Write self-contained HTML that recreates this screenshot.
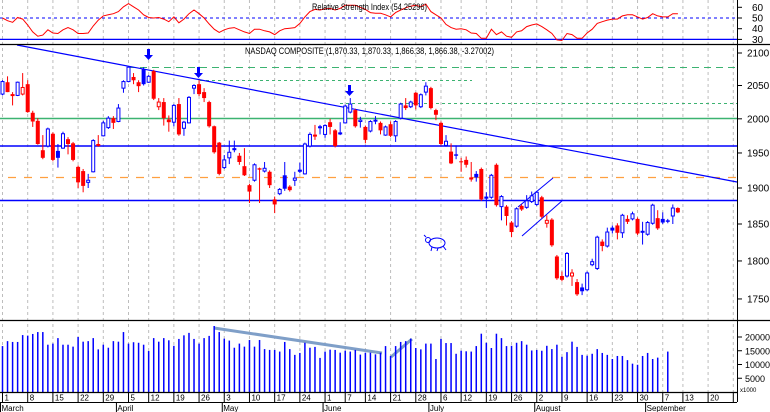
<!DOCTYPE html>
<html><head><meta charset="utf-8">
<style>
html,body{margin:0;padding:0;background:#fff;}
svg{display:block;font-family:"Liberation Sans",sans-serif;}
</style></head>
<body>
<svg id="chart" width="770" height="412" viewBox="0 0 770 412" xmlns="http://www.w3.org/2000/svg">
<rect x="0" y="0" width="770" height="412" fill="#fff"/>
<g id="grid"></g>
<g id="rsi"></g>
<g id="overlays"></g>
<g id="candles"></g>
<g id="volume"></g>
<g id="axes"></g>
</svg>
<script>
// ---- data ----
const opens  = [2037,2055,2037,2035,2037,2052,2009,1997,1954,1960,1978,1953,1957,1970,1964,1930,1924,1908,1923,1963,1975,1987,2001,1996,2046,2056,2063,2055,2075,2055,2072,2018,2025,1999,1995,2022,1986,1994,2046,2052,2040,2025,1989,1965,1929,1943,1957,1946,1931,1904,1911,1928,1924,1923,1884,1892,1918,1902,1911,1926,1920,1960,1975,1989,1977,1995,1983,1980,1994,2010,2013,1996,1988,1982,1997,1994,1976,1992,1975,2001,2020,2018,2039,2018,2040,2046,2013,1994,1961,1952,1948,1938,1940,1915,1920,1927,1888,1887,1933,1874,1874,1852,1847,1875,1873,1881,1877,1887,1851,1856,1806,1780,1780,1780,1772,1765,1762,1795,1790,1826,1820,1845,1848,1838,1857,1857,1857,1839,1836,1851,1858,1857,1855,1861,1872];
const highs  = [2058,2064,2040,2056,2069,2058,2012,2001,1976,1987,1980,1963,1981,1973,1966,1932,1927,1920,1970,1976,1997,2004,2004,2022,2058,2080,2069,2058,2078,2066,2074,2031,2031,2005,2022,2031,1997,2034,2052,2058,2046,2027,1990,1966,1947,1968,1968,1950,1957,1906,1935,1929,1937,1925,1888,1900,1937,1904,1923,1936,1965,1980,1991,1991,1992,2000,1985,1995,2021,2031,2015,2003,1990,1998,2004,1996,1990,1996,1998,2024,2031,2027,2040,2038,2055,2048,2015,1996,1976,1964,1961,1943,1945,1937,1924,1929,1894,1920,1935,1890,1876,1854,1873,1877,1890,1895,1896,1889,1862,1858,1808,1786,1812,1789,1776,1770,1786,1803,1834,1829,1845,1848,1851,1864,1862,1867,1859,1853,1854,1878,1869,1866,1857,1877,1873];
const lows   = [2035,2040,2020,2034,2035,2009,1988,1962,1941,1958,1938,1929,1956,1948,1938,1900,1894,1900,1922,1959,1974,1985,1985,1995,2039,2055,2052,2040,2050,2054,2028,2013,1990,1981,1989,1975,1975,1993,2037,2034,2025,1987,1949,1918,1927,1934,1951,1933,1917,1879,1909,1879,1922,1900,1865,1890,1896,1895,1903,1921,1919,1958,1969,1977,1972,1977,1958,1976,1993,2008,1987,1987,1964,1980,1992,1977,1975,1973,1966,1999,2013,2016,2014,2016,2035,2014,1998,1961,1959,1934,1941,1923,1929,1909,1909,1882,1872,1885,1874,1855,1848,1832,1845,1868,1871,1879,1875,1858,1845,1819,1775,1773,1778,1767,1754,1755,1760,1793,1788,1813,1818,1837,1829,1831,1850,1855,1835,1822,1834,1849,1842,1850,1851,1850,1865];
const closes = [2056,2040,2034,2055,2047,2010,1996,1963,1943,1985,1940,1943,1978,1963,1940,1908,1903,1911,1968,1960,1994,2001,1994,2016,2056,2078,2058,2049,2052,2064,2030,2025,2001,1995,2020,1977,1995,2032,2050,2037,2031,1989,1951,1920,1940,1951,1954,1937,1918,1895,1933,1926,1928,1904,1877,1898,1899,1897,1914,1923,1963,1977,1976,1986,1990,1988,1960,1977,2019,2022,1989,1998,1969,1996,1998,1983,1988,1975,1996,2022,2016,2025,2020,2036,2049,2016,2006,1963,1967,1935,1946,1937,1933,1912,1915,1884,1885,1918,1876,1888,1861,1839,1871,1870,1882,1889,1894,1860,1855,1821,1777,1775,1810,1784,1756,1760,1784,1799,1832,1820,1839,1841,1838,1862,1853,1864,1837,1840,1852,1876,1844,1852,1853,1872,1866];
const volumes = [16700,18500,18200,18200,20700,20500,21100,21800,21800,17200,17600,19600,17200,17200,16500,20000,18300,18500,19600,15500,17200,16100,18500,18300,21800,17600,18100,17900,17200,14900,19600,18300,19600,18800,16800,19300,20600,21500,19300,17600,19600,20400,24000,21800,19400,18700,16100,17600,16500,18900,16500,18900,15600,15300,15300,14700,18200,15600,13500,14200,17900,16100,16400,12400,14700,15400,15300,14300,15000,14700,15300,13600,14300,14300,13700,14300,16700,13100,16700,18200,18500,19400,16000,15500,17600,17600,12000,19300,17800,17800,13900,15000,14800,14700,16700,21200,17900,16000,21200,19600,16700,16800,17900,18500,17200,15100,15300,15000,16800,15600,17200,12800,14500,18300,16400,13500,13200,13900,15600,14200,13500,12000,13100,13100,11600,10300,9900,13100,14200,12000,12500,0,14700,0,0];
const rsiValues = [50,47.5,46,50.5,49,43.5,37,33,34,39,36,35.5,39,41,39,35.5,35.5,36,42.5,48,52,53,54,56,60.5,63.5,60.5,57.5,53,50.5,50,50.5,49,46.5,51,45.5,49,54,57.5,54,50,44.5,39.5,36.5,39,40.5,41,39,37,35.5,39.5,39.5,38,37,34.5,38,40,40.5,41,45,51,56,58,57.5,58.5,59,57.5,59,62,62,62,60,58,55,54.5,54.5,53,51,55,57.5,59.5,61,62,60.5,63,56,53,50,44,41,39.5,40,39,36,35.5,31,31,39.5,34.5,37,33,32,37,38,42,43.5,44.5,42,39,35.5,29.5,29,35.5,34.5,31,31,36,39.5,45,46.5,48,49,49,52,53,53,51,49,50.5,54,52,51,51,54,54];
const priceTicks = [2100,2050,2000,1950,1900,1850,1800,1750];
const volumeTicks = [20000,15000,10000,5000];
const rsiTicks = [60,50,40,30];
const dayTickIndex = [0,5,10,15,20,25,29,34,39,44,49,54,59,64,68,72,77,82,87,91,96,101,106,111,116,121,126,131,135,140,145];
const dayTickLabels = ["1","8","15","22","29","5","12","19","26","3","10","17","24","1","7","14","21","28","6","12","19","26","2","9","16","23","30","7","13","20",""];
const monthIndex = [0,23,44,64,85,106,128];
const monthLabels = ["March","April","May","June","July","August","September"];

// ---- scales ----
const NS="http://www.w3.org/2000/svg";
const PLOT_R=737;
function xOf(i){return 2.5+5.04*i;}
function yPrice(p){return 53+1349*Math.log(2100/p);}
function yVol(v){return 392-v/20000*55;}
function yRsi(v){return 18-(v-50)*1.07;}
function mk(tag,attrs,parent){const e=document.createElementNS(NS,tag);for(const k in attrs)e.setAttribute(k,attrs[k]);parent.appendChild(e);return e;}

const grid=document.getElementById('grid');
const rsiG=document.getElementById('rsi');
const ov=document.getElementById('overlays');
const cg=document.getElementById('candles');
const vg=document.getElementById('volume');
const ax=document.getElementById('axes');

// vertical gridlines
dayTickIndex.forEach((d)=>{
  const x=xOf(d);
  if(x>PLOT_R)return;
  const l=mk('line',{x1:x,y1:0,x2:x,y2:392,stroke:'#bdbdbd','stroke-width':1,'stroke-dasharray':'3,3'},grid);
  
  
});

// RSI panel
let l1=mk('line',{x1:0,y1:yRsi(50),x2:PLOT_R,y2:yRsi(50),stroke:'#0000ff','stroke-width':1,'stroke-dasharray':'3,3'},rsiG);


let l2=mk('line',{x1:0,y1:yRsi(30),x2:PLOT_R,y2:yRsi(30),stroke:'#0000ff','stroke-width':1.3},rsiG);


let rp=rsiValues.map((v,i)=>xOf(i).toFixed(1)+','+yRsi(v).toFixed(1)).join(' ');
let rl=mk('polyline',{points:rp,fill:'none',stroke:'#ff0000','stroke-width':1},rsiG);


let rt=mk('text',{x:312,y:10,'font-size':9,textLength:115,lengthAdjust:'spacingAndGlyphs',fill:'#000'},rsiG);
rt.textContent='Relative Strength Index (54.25296)';



// panel separators
let s1=mk('line',{x1:0,y1:44.5,x2:770,y2:44.5,stroke:'#000','stroke-width':1.3},ax);


let s2=mk('line',{x1:0,y1:320.5,x2:770,y2:320.5,stroke:'#000','stroke-width':1.3},ax);


let s3=mk('line',{x1:PLOT_R+0.5,y1:0,x2:PLOT_R+0.5,y2:402,stroke:'#000','stroke-width':1},ax);



// overlays (support/resistance lines)
let o;
o=mk('line',{x1:0,y1:146,x2:PLOT_R,y2:146,stroke:'#0000ff','stroke-width':1.5},ov);


o=mk('line',{x1:0,y1:200.5,x2:PLOT_R,y2:200.5,stroke:'#0000ff','stroke-width':1.5},ov);


o=mk('line',{x1:0,y1:118.5,x2:PLOT_R,y2:118.5,stroke:'#3cb371','stroke-width':1.5},ov);


o=mk('line',{x1:8,y1:177.5,x2:PLOT_R,y2:177.5,stroke:'#ffa040','stroke-width':1.3,'stroke-dasharray':'8,8'},ov);


o=mk('line',{x1:128,y1:67.5,x2:PLOT_R,y2:67.5,stroke:'#3cb371','stroke-width':1,'stroke-dasharray':'7,5'},ov);


o=mk('line',{x1:200,y1:80.5,x2:472,y2:80.5,stroke:'#3cb371','stroke-width':1,'stroke-dasharray':'3,3'},ov);


o=mk('line',{x1:340,y1:103.5,x2:PLOT_R,y2:103.5,stroke:'#3cb371','stroke-width':1,'stroke-dasharray':'3,3'},ov);


o=mk('line',{x1:17,y1:45,x2:PLOT_R,y2:182,stroke:'#0000ff','stroke-width':1.2},ov);


o=mk('line',{x1:518,y1:207,x2:553,y2:178,stroke:'#0000ff','stroke-width':1},ov);


o=mk('line',{x1:522,y1:236,x2:563,y2:200,stroke:'#0000ff','stroke-width':1},ov);


o=mk('line',{x1:214,y1:328,x2:382,y2:353,stroke:'#7f9fc8','stroke-width':3},ov);


o=mk('line',{x1:391,y1:357,x2:412,y2:339,stroke:'#7f9fc8','stroke-width':3},ov);



// arrows
[[148,49],[198,67],[349,85]].forEach(a=>{
  const g=mk('g',{},ov);
  
  
  mk('rect',{x:a[0]-1,y:a[1],width:3,height:6,fill:'#0000ff'},g);
  mk('polygon',{points:(a[0]-4)+','+(a[1]+6)+' '+(a[0]+5)+','+(a[1]+6)+' '+(a[0]+0.5)+','+(a[1]+11),fill:'#0000ff'},g);
});

// bull icon
let bull=mk('g',{fill:'none',stroke:'#0000ff','stroke-width':1},ov);


mk('ellipse',{cx:437,cy:243,rx:8,ry:5},bull);
mk('circle',{cx:428,cy:240,r:2.5},bull);
mk('path',{d:'M432 247 L431 251 M438 248 L437 251 M443 246 L446 250 M426 237 L424 235'},bull);

// candles
const up='#0000ff',dn='#ff0000';
opens.forEach((op,i)=>{
  const c=closes[i],h=highs[i],lo=lows[i];
  const prev=i>0?closes[i-1]:op;
  const col=c>=prev?up:dn;
  const x=xOf(i);
  const g=mk('g',{},cg);
  
  
  mk('line',{x1:x,y1:yPrice(h),x2:x,y2:yPrice(lo),stroke:col,'stroke-width':1},g);
  const top=yPrice(Math.max(op,c)),bot=yPrice(Math.min(op,c));
  const hgt=Math.max(1,bot-top);
  if(c>op){
    mk('rect',{x:x-1.5,y:top,width:3,height:hgt,fill:'#fff',stroke:col,'stroke-width':1},g);
  } else {
    mk('rect',{x:x-2,y:top,width:4,height:hgt,fill:col},g);
  }
});

// volume bars
volumes.forEach((v,i)=>{
  if(v<=0)return;
  const x=xOf(i);
  const b=mk('rect',{x:x-0.75,y:yVol(v),width:1.5,height:392-yVol(v),fill:'#0000ff'},vg);
  
  
});

// title
let tt=mk('text',{x:245,y:54,'font-size':9,textLength:249,lengthAdjust:'spacingAndGlyphs',fill:'#000'},ax);
tt.textContent='NASDAQ COMPOSITE (1,870.33, 1,870.33, 1,866.38, 1,866.38, -3.27002)';



// right axis ticks
priceTicks.forEach(p=>{
  const y=yPrice(p);
  mk('line',{x1:PLOT_R,y1:y,x2:PLOT_R+5,y2:y,stroke:'#000'},ax);
  const t=mk('text',{x:747,y:y+3.5,'font-size':10,fill:'#000'},ax);
  t.textContent=String(p);
  
  
});
rsiTicks.forEach(v=>{
  const y=yRsi(v);
  mk('line',{x1:PLOT_R,y1:y,x2:PLOT_R+5,y2:y,stroke:'#000'},ax);
  const t=mk('text',{x:752,y:y+3.5,'font-size':10,fill:'#000'},ax);
  t.textContent=String(v);
  
  
});
volumeTicks.forEach(v=>{
  const y=yVol(v);
  mk('line',{x1:PLOT_R,y1:y,x2:PLOT_R+5,y2:y,stroke:'#000'},ax);
  const t=mk('text',{x:745,y:y+3.5,'font-size':9,fill:'#000'},ax);
  t.textContent=String(v);
  
  
});
let xk=mk('text',{x:740,y:392,'font-size':6,fill:'#000'},ax);
xk.textContent='x1000';



// date axis
let d1=mk('line',{x1:0,y1:392.5,x2:PLOT_R,y2:392.5,stroke:'#000','stroke-width':1.3},ax);


let d2=mk('line',{x1:0,y1:402.5,x2:PLOT_R,y2:402.5,stroke:'#000','stroke-width':1},ax);


dayTickIndex.forEach((d,k)=>{
  const x=xOf(d);
  if(x>PLOT_R)return;
  mk('line',{x1:x,y1:392,x2:x,y2:402,stroke:'#000'},ax);
  const t=mk('text',{x:x+2,y:400.5,'font-size':8,fill:'#000'},ax);
  t.textContent=dayTickLabels[k];
  
  
});
monthIndex.forEach((d,k)=>{
  const x=xOf(d)-2;
  mk('line',{x1:x,y1:402,x2:x,y2:412,stroke:'#000'},ax);
  const t=mk('text',{x:x+1,y:411,'font-size':8,fill:'#000'},ax);
  t.textContent=monthLabels[k];
  
  
});
</script>
</body></html>
